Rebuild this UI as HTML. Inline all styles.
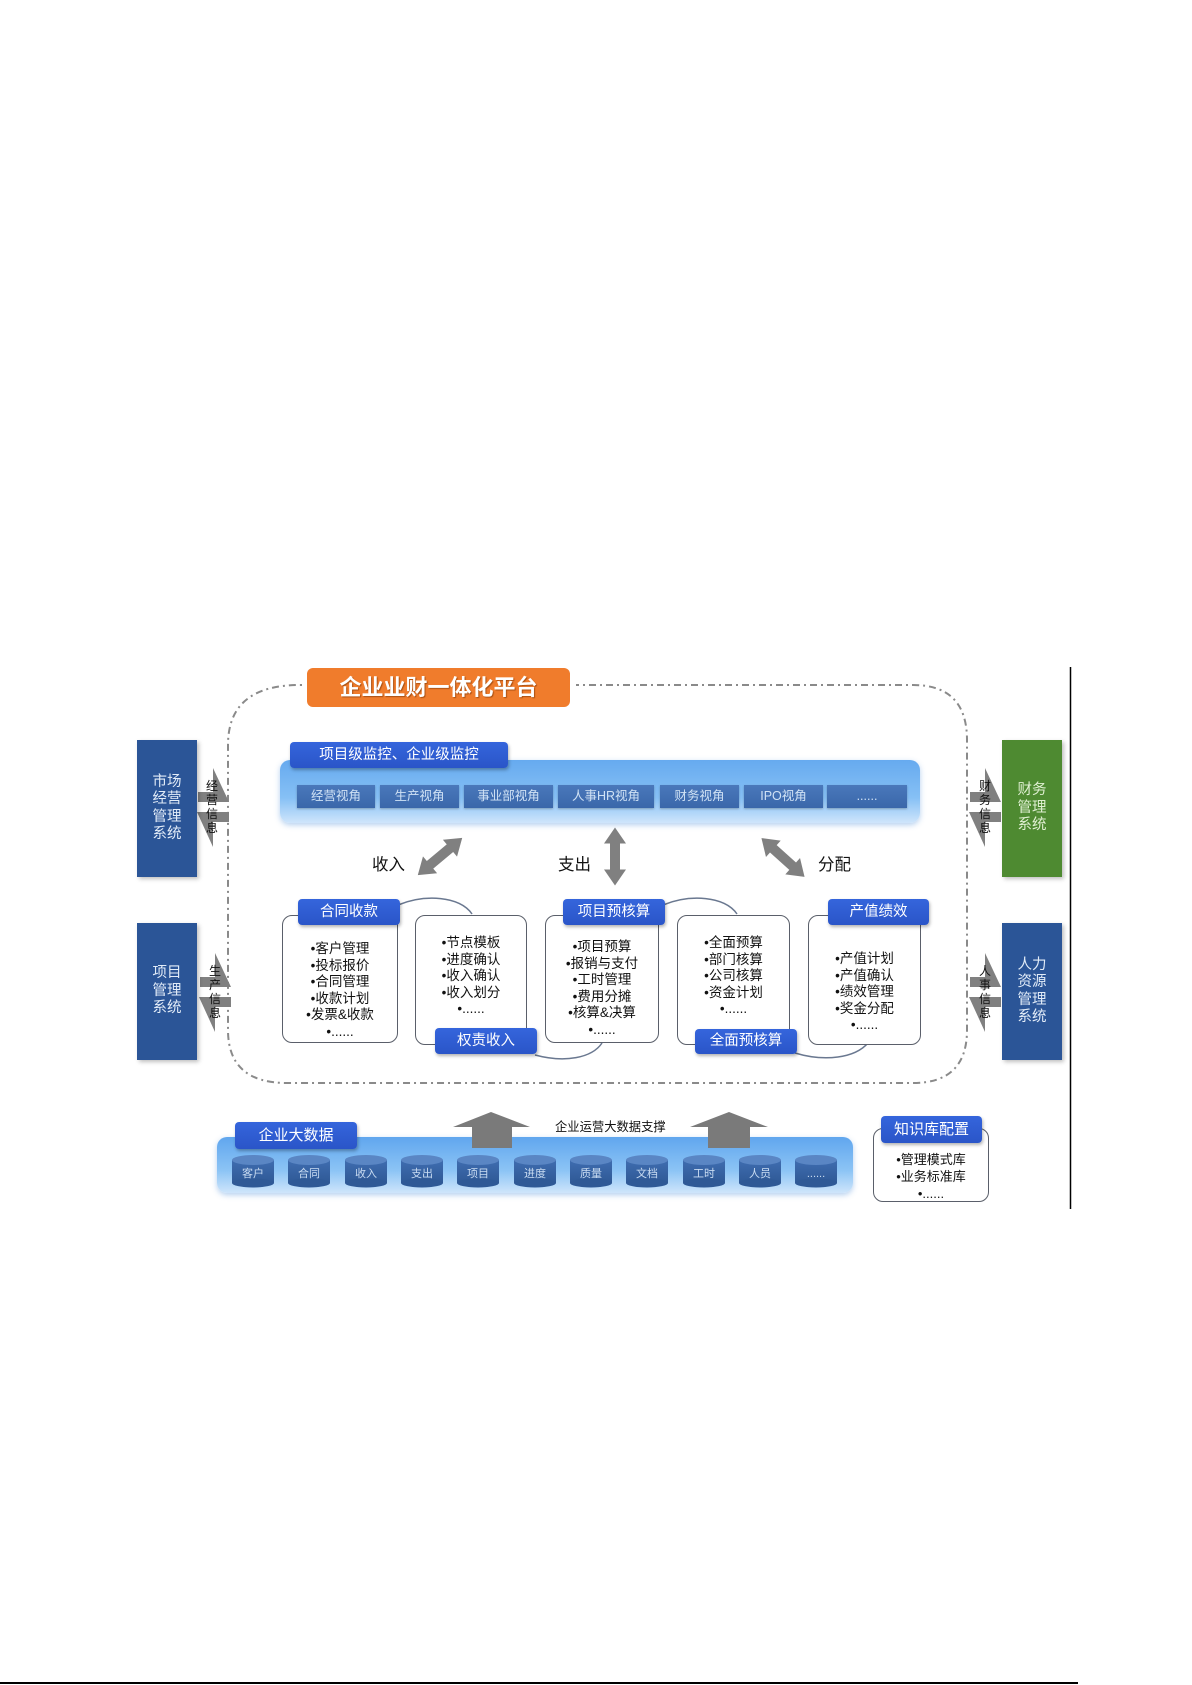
<!DOCTYPE html>
<html><head><meta charset="utf-8">
<style>
html,body{margin:0;padding:0;background:#fff;}
body{width:1192px;height:1685px;position:relative;overflow:hidden;font-family:"Liberation Sans","Noto Sans CJK SC",sans-serif;}
.a{position:absolute;}
.sys{position:absolute;width:60px;color:#e2ecf8;font-size:14.5px;line-height:17.5px;text-align:center;display:flex;align-items:center;justify-content:center;box-shadow:2px 2px 4px rgba(0,0,0,.25);}
.blue{background:#2b5597;}
.green{background:#4e8a31;color:#e0f0d2;}
.tab{position:absolute;background:linear-gradient(#3565dc,#2a55c8);color:#fff;border-radius:4px;text-align:center;box-shadow:1px 2px 3px rgba(0,0,0,.3);font-size:14.5px;}
.tile{position:absolute;top:785px;height:23px;background:linear-gradient(#4a78bb,#3a67aa);color:#d0e2f5;font-size:12.5px;line-height:23px;text-align:center;box-shadow:0 1px 2px rgba(0,0,0,.25);}
.box{position:absolute;border:1.3px solid #5a5f6a;border-radius:10px;background:#fff;box-sizing:border-box;}
.txt{position:absolute;font-size:13.5px;line-height:16.5px;color:#111;text-align:center;white-space:nowrap;}
.vt{position:absolute;font-size:12px;line-height:14px;width:14px;text-align:center;color:#111;}
.lbl{position:absolute;font-size:16.5px;color:#111;}
</style></head><body>

<svg class="a" style="left:0;top:0" width="1192" height="1685">
  <!-- dashed platform outline -->
  <path d="M 300,685 L 913,685 Q 967,685 967,740 L 967,1030 Q 967,1083 913,1083 L 287,1083 Q 228,1083 228,1030 L 228,745 Q 228,685 300,685 Z" fill="none" stroke="#8a8a8a" stroke-width="2" stroke-dasharray="7,4,2,4"/>
  <rect x="302" y="676" width="274" height="20" fill="#fff"/>
  <!-- right vertical line & bottom line -->
  <line x1="1070.5" y1="667" x2="1070.5" y2="1209" stroke="#000" stroke-width="1.5"/>
  <line x1="0" y1="1683" x2="1078" y2="1683" stroke="#000" stroke-width="2"/>

  <!-- side harpoon arrows -->
  <g fill="#808080">
    <g transform="translate(213,807)"><polygon points="-15,-15 0,-15 0,-39 16,-5 -15,-5"/><polygon points="16,5 16,15 0,15 0,40 -16,5"/></g>
    <g transform="translate(215,992)"><polygon points="-15,-15 0,-15 0,-39 16,-5 -15,-5"/><polygon points="16,5 16,15 0,15 0,40 -16,5"/></g>
    <g transform="translate(985,807)"><polygon points="-15,-15 0,-15 0,-39 16,-5 -15,-5"/><polygon points="16,5 16,15 0,15 0,40 -16,5"/></g>
    <g transform="translate(985,992)"><polygon points="-15,-15 0,-15 0,-39 16,-5 -15,-5"/><polygon points="16,5 16,15 0,15 0,40 -16,5"/></g>
  </g>

  <!-- double arrows -->
  <g fill="#808080">
    <g transform="translate(440,856.5) rotate(-40)"><polygon points="-29,0 -13,-11 -13,-5 13,-5 13,-11 29,0 13,11 13,5 -13,5 -13,11"/></g>
    <g transform="translate(615,856.5) rotate(90)"><polygon points="-29,0 -13,-11 -13,-5 13,-5 13,-11 29,0 13,11 13,5 -13,5 -13,11"/></g>
    <g transform="translate(783,857.5) rotate(42)"><polygon points="-29,0 -13,-11 -13,-5 13,-5 13,-11 29,0 13,11 13,5 -13,5 -13,11"/></g>
  </g>

  <!-- connecting curves -->
  <g fill="none" stroke="#6a7890" stroke-width="1.5">
    <path d="M 398,905 C 425,894 460,896 472,914"/>
    <path d="M 663,905 C 690,894 725,896 737,914"/>
    <path d="M 535,1055 C 565,1063 592,1058 602,1043"/>
    <path d="M 795,1053 C 825,1062 855,1058 868,1043"/>
  </g>
</svg>

<!-- title -->
<div class="a" style="left:307px;top:668px;width:263px;height:39px;background:#f07c2c;border-radius:6px;color:#fff;font-size:22px;font-weight:bold;text-align:center;line-height:39px;text-shadow:1px 1px 1px rgba(120,50,0,.6);">企业业财一体化平台</div>

<!-- side systems -->
<div class="sys blue" style="left:137px;top:740px;height:137px;">市场<br>经营<br>管理<br>系统</div>
<div class="sys blue" style="left:137px;top:923px;height:137px;">项目<br>管理<br>系统</div>
<div class="sys green" style="left:1002px;top:740px;height:137px;">财务<br>管理<br>系统</div>
<div class="sys blue" style="left:1002px;top:923px;height:137px;">人力<br>资源<br>管理<br>系统</div>

<div class="vt" style="left:205px;top:779px;">经<br>营<br>信<br>息</div>
<div class="vt" style="left:208px;top:964px;">生<br>产<br>信<br>息</div>
<div class="vt" style="left:978px;top:779px;">财<br>务<br>信<br>息</div>
<div class="vt" style="left:978px;top:964px;">人<br>事<br>信<br>息</div>

<!-- monitor panel -->
<div class="a" style="left:280px;top:760px;width:640px;height:63px;border-radius:10px;background:linear-gradient(#66aaef,#86c0f5 60%,#cfe5fb);box-shadow:0 2px 6px rgba(90,150,220,.45);"></div>
<div class="tab" style="left:290px;top:742px;width:218px;height:26px;line-height:26px;font-size:14.5px;">项目级监控、企业级监控</div>
<div class="tile" style="left:297px;width:78px;">经营视角</div>
<div class="tile" style="left:380px;width:79px;">生产视角</div>
<div class="tile" style="left:464px;width:89px;">事业部视角</div>
<div class="tile" style="left:558px;width:96px;">人事HR视角</div>
<div class="tile" style="left:660px;width:79px;">财务视角</div>
<div class="tile" style="left:744px;width:79px;">IPO视角</div>
<div class="tile" style="left:827px;width:80px;">......</div>

<div class="lbl" style="left:372px;top:851px;">收入</div>
<div class="lbl" style="left:558px;top:851px;">支出</div>
<div class="lbl" style="left:818px;top:851px;">分配</div>

<!-- middle boxes -->
<div class="box" style="left:282px;top:915px;width:116px;height:128px;"></div>
<div class="box" style="left:415px;top:915px;width:112px;height:130px;"></div>
<div class="box" style="left:545px;top:915px;width:114px;height:128px;"></div>
<div class="box" style="left:677px;top:915px;width:113px;height:130px;"></div>
<div class="box" style="left:808px;top:915px;width:113px;height:130px;"></div>

<div class="tab" style="left:298px;top:899px;width:102px;height:26px;line-height:26px;">合同收款</div>
<div class="tab" style="left:435px;top:1028px;width:102px;height:26px;line-height:26px;">权责收入</div>
<div class="tab" style="left:563px;top:899px;width:102px;height:26px;line-height:26px;">项目预核算</div>
<div class="tab" style="left:695px;top:1029px;width:102px;height:25px;line-height:25px;">全面预核算</div>
<div class="tab" style="left:828px;top:899px;width:101px;height:26px;line-height:26px;">产值绩效</div>

<div class="txt" style="left:282px;top:941px;width:116px;">•客户管理<br>•投标报价<br>•合同管理<br>•收款计划<br>•发票&amp;收款<br>•......</div>
<div class="txt" style="left:415px;top:935px;width:112px;">•节点模板<br>•进度确认<br>•收入确认<br>•收入划分<br>•......</div>
<div class="txt" style="left:545px;top:939px;width:114px;">•项目预算<br>•报销与支付<br>•工时管理<br>•费用分摊<br>•核算&amp;决算<br>•......</div>
<div class="txt" style="left:677px;top:935px;width:113px;">•全面预算<br>•部门核算<br>•公司核算<br>•资金计划<br>•......</div>
<div class="txt" style="left:808px;top:951px;width:113px;">•产值计划<br>•产值确认<br>•绩效管理<br>•奖金分配<br>•......</div>

<!-- big data panel -->
<div class="a" style="left:217px;top:1137px;width:636px;height:56px;border-radius:10px;background:linear-gradient(#60a6ee,#8cc4f5 60%,#cfe5fb);box-shadow:0 2px 6px rgba(90,150,220,.45);"></div>
<svg class="a" style="left:0;top:0" width="1192" height="1685" pointer-events="none">
  <g fill="#7a7a7a">
    <polygon points="453,1127 491,1112 530,1127 512,1127 512,1148 472,1148 472,1127"/>
    <polygon points="690,1127 729,1112 768,1127 750,1127 750,1148 708,1148 708,1127"/>
  </g>
  <defs>
    <linearGradient id="cyl" x1="0" y1="0" x2="0" y2="1"><stop offset="0" stop-color="#3f6db0"/><stop offset="1" stop-color="#2f5996"/></linearGradient>
  </defs>
  <g id="cyls">
    <g transform="translate(232,0)"><rect x="0" y="1160" width="42" height="23" fill="url(#cyl)"/><ellipse cx="21" cy="1183" rx="21" ry="4.5" fill="#2f5996"/><ellipse cx="21" cy="1160" rx="21" ry="5" fill="#5a86c4"/></g>
    <g transform="translate(288,0)"><rect x="0" y="1160" width="42" height="23" fill="url(#cyl)"/><ellipse cx="21" cy="1183" rx="21" ry="4.5" fill="#2f5996"/><ellipse cx="21" cy="1160" rx="21" ry="5" fill="#5a86c4"/></g>
    <g transform="translate(345,0)"><rect x="0" y="1160" width="42" height="23" fill="url(#cyl)"/><ellipse cx="21" cy="1183" rx="21" ry="4.5" fill="#2f5996"/><ellipse cx="21" cy="1160" rx="21" ry="5" fill="#5a86c4"/></g>
    <g transform="translate(401,0)"><rect x="0" y="1160" width="42" height="23" fill="url(#cyl)"/><ellipse cx="21" cy="1183" rx="21" ry="4.5" fill="#2f5996"/><ellipse cx="21" cy="1160" rx="21" ry="5" fill="#5a86c4"/></g>
    <g transform="translate(457,0)"><rect x="0" y="1160" width="42" height="23" fill="url(#cyl)"/><ellipse cx="21" cy="1183" rx="21" ry="4.5" fill="#2f5996"/><ellipse cx="21" cy="1160" rx="21" ry="5" fill="#5a86c4"/></g>
    <g transform="translate(514,0)"><rect x="0" y="1160" width="42" height="23" fill="url(#cyl)"/><ellipse cx="21" cy="1183" rx="21" ry="4.5" fill="#2f5996"/><ellipse cx="21" cy="1160" rx="21" ry="5" fill="#5a86c4"/></g>
    <g transform="translate(570,0)"><rect x="0" y="1160" width="42" height="23" fill="url(#cyl)"/><ellipse cx="21" cy="1183" rx="21" ry="4.5" fill="#2f5996"/><ellipse cx="21" cy="1160" rx="21" ry="5" fill="#5a86c4"/></g>
    <g transform="translate(626,0)"><rect x="0" y="1160" width="42" height="23" fill="url(#cyl)"/><ellipse cx="21" cy="1183" rx="21" ry="4.5" fill="#2f5996"/><ellipse cx="21" cy="1160" rx="21" ry="5" fill="#5a86c4"/></g>
    <g transform="translate(683,0)"><rect x="0" y="1160" width="42" height="23" fill="url(#cyl)"/><ellipse cx="21" cy="1183" rx="21" ry="4.5" fill="#2f5996"/><ellipse cx="21" cy="1160" rx="21" ry="5" fill="#5a86c4"/></g>
    <g transform="translate(739,0)"><rect x="0" y="1160" width="42" height="23" fill="url(#cyl)"/><ellipse cx="21" cy="1183" rx="21" ry="4.5" fill="#2f5996"/><ellipse cx="21" cy="1160" rx="21" ry="5" fill="#5a86c4"/></g>
    <g transform="translate(795,0)"><rect x="0" y="1160" width="42" height="23" fill="url(#cyl)"/><ellipse cx="21" cy="1183" rx="21" ry="4.5" fill="#2f5996"/><ellipse cx="21" cy="1160" rx="21" ry="5" fill="#5a86c4"/></g>
  </g>
  <g font-family="Liberation Sans, Noto Sans CJK SC, sans-serif" font-size="11" fill="#c9dcf2" text-anchor="middle">
    <text x="253" y="1177">客户</text>
    <text x="309" y="1177">合同</text>
    <text x="366" y="1177">收入</text>
    <text x="422" y="1177">支出</text>
    <text x="478" y="1177">项目</text>
    <text x="535" y="1177">进度</text>
    <text x="591" y="1177">质量</text>
    <text x="647" y="1177">文档</text>
    <text x="704" y="1177">工时</text>
    <text x="760" y="1177">人员</text>
    <text x="816" y="1177">......</text>
  </g>
</svg>
<div class="tab" style="left:235px;top:1122px;width:122px;height:27px;line-height:27px;font-size:15px;">企业大数据</div>
<div class="a" style="left:555px;top:1117px;font-size:12.3px;color:#111;white-space:nowrap;">企业运营大数据支撑</div>

<!-- knowledge base -->
<div class="box" style="left:873px;top:1128px;width:116px;height:74px;"></div>
<div class="tab" style="left:881px;top:1116px;width:101px;height:27px;line-height:27px;font-size:15px;">知识库配置</div>
<div class="txt" style="left:873px;top:1151px;width:116px;font-size:13px;line-height:17px;">•管理模式库<br>•业务标准库<br>•......</div>

</body></html>
